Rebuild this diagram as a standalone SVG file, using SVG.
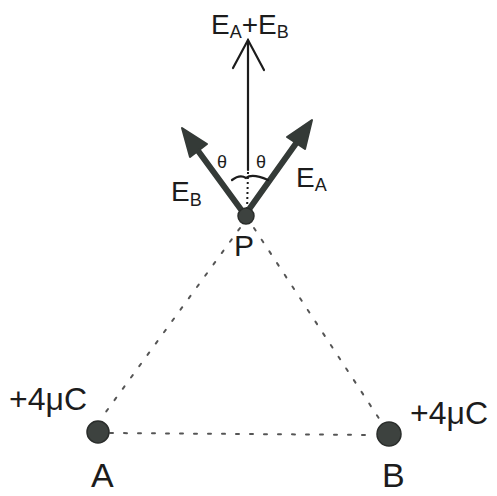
<svg xmlns="http://www.w3.org/2000/svg" width="497" height="496" viewBox="0 0 497 496">
<style>
.t{font-family:"Liberation Sans",Arial,sans-serif;fill:#1c1c1c}
.big{font-size:28px}
.sub{font-size:18px}
.lbl{font-size:32px}
.dash{stroke:#555;stroke-width:2;fill:none;stroke-dasharray:3 11;stroke-linecap:round}
.vec{stroke:#343a37;stroke-width:6;fill:none;stroke-linecap:round}
.thin{stroke:#1c1c1c;stroke-width:2.2;fill:none;stroke-linecap:round}
.head{fill:#343a37;stroke:#343a37;stroke-width:2;stroke-linejoin:round}
.dot{fill:#3d423f;stroke:#2a2d2b;stroke-width:1.5}
</style>
<rect width="497" height="496" fill="#fff"/>
<g id="connectors">
  <line class="dash" x1="240" y1="228" x2="100" y2="420"/>
  <line class="dash" x1="254" y1="228" x2="380" y2="420"/>
  <line class="dash" x1="110" y1="433" x2="375" y2="435"/>
  <path class="thin" d="M248 40 L248 170"/>
  <path class="thin" d="M233 68 L248 40 L264 70"/>
  <line x1="248" y1="172" x2="247" y2="212" stroke="#1c1c1c" stroke-width="2" stroke-dasharray="2 3"/>
  <line class="vec" x1="245" y1="215" x2="196" y2="148"/>
  <polygon class="head" points="182,128 207,144 190,157"/>
  <line class="vec" x1="245" y1="215" x2="297" y2="142"/>
  <polygon class="head" points="312,120 305,149 287,137"/>
  <path class="thin" d="M232 180 Q240 174 246 178 Q252 173 268 180" stroke-width="1.6"/>
</g>
<g id="node-P">
  <circle class="dot" cx="246" cy="216" r="8"/>
  <text class="t" x="234" y="256" font-size="30">P</text>
</g>
<g id="node-A">
  <circle class="dot" cx="98" cy="432" r="11"/>
  <text class="t" x="91" y="487" font-size="34">A</text>
  <text class="t lbl" x="9" y="410">+4μC</text>
</g>
<g id="node-B">
  <circle class="dot" cx="389" cy="434" r="12"/>
  <text class="t" x="382" y="487" font-size="34">B</text>
  <text class="t lbl" x="410" y="424">+4μC</text>
</g>
<g id="labels">
  <text class="t" x="211" y="34"><tspan class="big">E</tspan><tspan class="sub" dy="4">A</tspan><tspan class="big" dy="-4">+E</tspan><tspan class="sub" dy="4">B</tspan></text>
  <text class="t" x="171" y="201"><tspan class="big">E</tspan><tspan class="sub" dy="5">B</tspan></text>
  <text class="t" x="296" y="187"><tspan class="big">E</tspan><tspan class="sub" dy="4">A</tspan></text>
  <text class="t" x="217" y="168" font-size="18">θ</text>
  <text class="t" x="256" y="168" font-size="18">θ</text>
</g>
</svg>
